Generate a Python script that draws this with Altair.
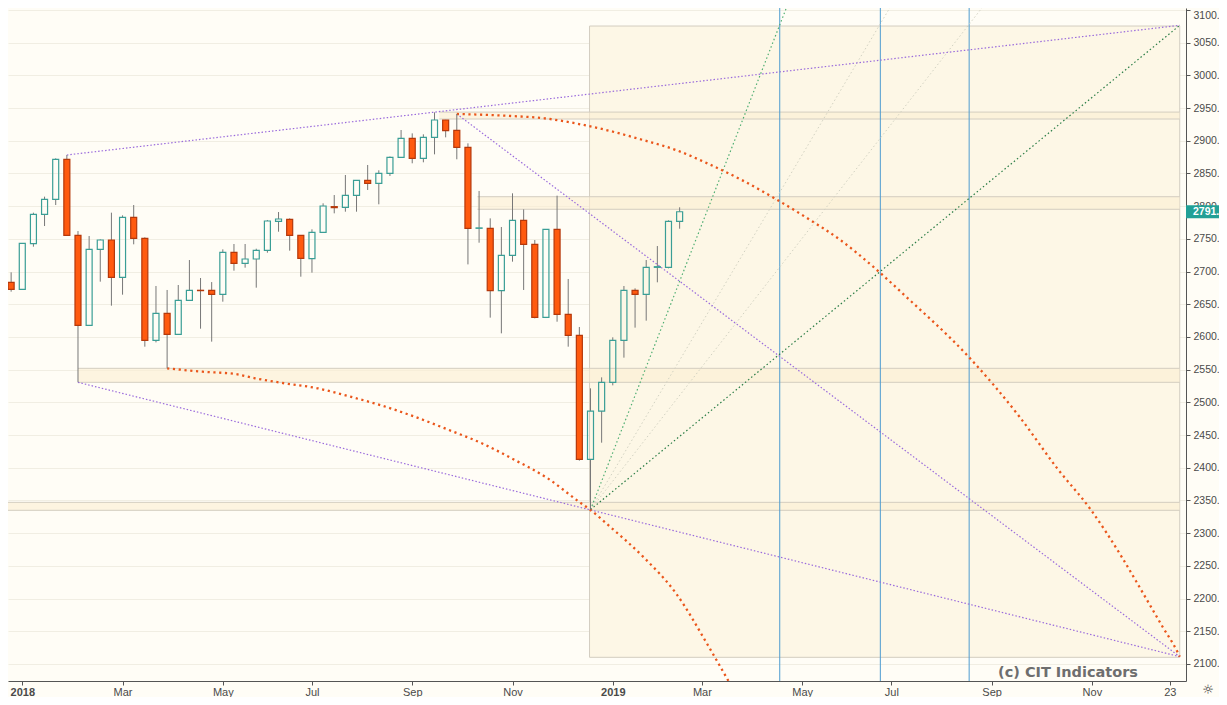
import altair as alt
import pandas as pd

# ---------------- weekly candles ----------------
first_week = "2017-12-25"
opens = [2683.6, 2672.9, 2742.7, 2787.6, 2810.5, 2871.7, 2755.4, 2617.8, 2734.0, 2748.3,
         2691.2, 2783.0, 2750.9, 2594.9, 2636.2, 2604.1, 2656.1, 2671.4, 2671.4, 2665.2,
         2729.5, 2712.6, 2719.3, 2732.5, 2776.9, 2779.9, 2755.4, 2719.8, 2760.1, 2799.3,
         2798.3, 2816.6, 2839.6, 2835.0, 2850.3, 2874.7, 2903.8, 2873.2, 2905.3, 2931.8,
         2916.0, 2890.0, 2766.2, 2766.2, 2670.8, 2724.9, 2778.4, 2741.7, 2630.0, 2764.6,
         2634.7, 2602.5, 2412.9, 2486.8, 2530.7, 2594.9, 2671.3, 2665.2, 2706.5, 2706.5,
         2776.9]
highs = [2698.9, 2743.5, 2790.1, 2814.6, 2873.2, 2878.3, 2762.0, 2754.4, 2749.3, 2790.1,
         2786.0, 2801.8, 2752.4, 2678.0, 2671.9, 2679.5, 2717.7, 2690.2, 2684.0, 2734.0,
         2742.2, 2742.2, 2735.0, 2778.9, 2791.1, 2781.4, 2755.9, 2764.6, 2804.4, 2817.1,
         2847.7, 2839.6, 2863.0, 2854.9, 2876.0, 2916.5, 2911.4, 2909.9, 2943.5, 2932.0,
         2941.0, 2896.1, 2823.3, 2781.4, 2768.2, 2819.7, 2795.2, 2748.3, 2764.6, 2816.1,
         2688.7, 2615.3, 2521.5, 2538.3, 2599.5, 2678.0, 2674.4, 2717.7, 2739.1, 2778.4,
         2798.3]
lows = [2669.3, 2672.0, 2738.1, 2769.7, 2801.8, 2755.4, 2530.7, 2617.8, 2684.6, 2647.9,
        2664.7, 2741.7, 2585.2, 2591.8, 2552.1, 2604.1, 2656.1, 2612.7, 2592.9, 2654.0,
        2701.4, 2706.0, 2675.4, 2728.9, 2761.0, 2732.0, 2692.2, 2698.4, 2760.1, 2789.1,
        2791.6, 2791.6, 2824.8, 2802.9, 2846.2, 2874.7, 2865.6, 2867.1, 2879.3, 2905.3,
        2871.7, 2711.0, 2744.2, 2629.6, 2605.6, 2715.2, 2671.9, 2628.5, 2629.0, 2623.4,
        2585.2, 2410.9, 2336.0, 2438.4, 2526.1, 2568.4, 2614.3, 2625.0, 2683.6, 2705.0,
        2765.6]
closes = [2672.9, 2743.2, 2787.6, 2810.5, 2871.7, 2755.4, 2617.8, 2734.0, 2748.3, 2691.2,
          2783.0, 2750.9, 2594.9, 2636.2, 2604.1, 2656.1, 2671.4, 2670.9, 2665.2, 2729.5,
          2712.6, 2719.3, 2732.5, 2777.4, 2780.4, 2755.4, 2720.3, 2760.1, 2800.3, 2797.8,
          2816.6, 2839.6, 2835.0, 2850.3, 2874.7, 2903.8, 2873.2, 2905.3, 2931.8, 2915.5,
          2890.0, 2766.2, 2766.8, 2670.8, 2724.9, 2778.4, 2741.7, 2630.0, 2764.6, 2634.7,
          2602.5, 2412.9, 2486.8, 2530.7, 2594.9, 2671.3, 2665.2, 2706.5, 2707.5, 2776.9,
          2791.5]

# ---------------- axis ticks ----------------
price_ticks = list(range(2100, 3101, 50))
tick_dates = ["2018-01-01", "2018-03-05", "2018-05-07", "2018-07-02", "2018-09-03", "2018-11-05",
              "2019-01-07", "2019-03-04", "2019-05-06", "2019-07-01", "2019-09-02", "2019-11-04",
              "2019-12-23"]
tick_labels = ["2018", "Mar", "May", "Jul", "Sep", "Nov", "2019", "Mar", "May", "Jul", "Sep",
               "Nov", "23"]

# ---------------- drawings (days counted from 2018-01-01) ----------------
purple_ids = ["p1", "p1", "p2", "p2", "p3", "p3"]
purple_day = [28, 727.2, 35, 727.2, 273, 727.2]
purple_price = [2878.3, 3076.6, 2530.7, 2111.2, 2941.0, 2111.2]

fan_ids = ["g1", "g1", "g2", "g2", "l1", "l1", "l2", "l2"]
fan_day = [357, 482, 357, 727.2, 357, 548, 357, 606.8]
fan_price = [2336.0, 3115.3, 2336.0, 3076.6, 2336.0, 3115.3, 2336.0, 3115.3]
fan_kind = ["steep", "steep", "flat", "flat", "grey", "grey", "grey", "grey"]

arc_low_day = [91, 113.2, 133.8, 146.2, 164.8, 185.5, 206.1, 226.8, 247.5, 268.1, 288.7,
               309.5, 330.1, 349.7, 357, 369.3, 390.0, 410.7, 431.3, 442.7, 449.1]
arc_low_price = [2552.1, 2546.9, 2543.4, 2536.9, 2529.2, 2521.6, 2508.7, 2494.5, 2477.2,
                 2457.8, 2437.5, 2411.9, 2383.9, 2348.2, 2335.5, 2309.9, 2264.1, 2208.1,
                 2126.5, 2078.2, 2051.0]
arc_high_day = [273, 307.3, 328.0, 350.7, 369.3, 390.0, 410.7, 431.3, 452.0, 472.6, 493.3,
                514.0, 534.6, 555.3, 594.5, 626.5, 650.3, 671.0, 691.4, 703.0, 716.4, 725.7, 727.2]
arc_high_price = [2941.0, 2937.9, 2934.4, 2925.2, 2915.0, 2901.2, 2885.9, 2864.5, 2840.1,
                  2812.1, 2781.5, 2748.3, 2707.5, 2661.6, 2569.9, 2478.1, 2398.9, 2337.0,
                  2261.2, 2213.1, 2157.0, 2118.8, 2111.2]

cycle_days = [475.9, 539.1, 594.9]

band_start = [262, 286, 35, -10]
band_end = [727.2, 727.2, 727.2, 727.2]
band_lo = [2933.3, 2795.3, 2530.7, 2335.0]
band_hi = [2943.9, 2814.5, 2552.1, 2347.2]

box_day = [356.4, 727.2]
box_price = [2110.2, 3075.5]

watermark = "(c) CIT Indicators"

# ---------------- helpers ----------------
BASE = pd.Timestamp("2018-01-01", tz="UTC")
DAY_MS = 86400000
BASE_MS = BASE.value // 10**6


def day_ms(d):
    return BASE_MS + d * DAY_MS


def date_ms(s):
    return pd.Timestamp(s, tz="UTC").value // 10**6


W, H = 1178, 673
PAD_R = 33
x_scale = alt.Scale(type="utc", domain=[day_ms(-5.83), day_ms(728.0)])
y_scale = alt.Scale(domain=[2074.0, 3103.06], nice=False, zero=False)

tick_ms = [date_ms(s) for s in tick_dates]
label_expr = "''"
for m, lab in reversed(list(zip(tick_ms, tick_labels))):
    label_expr = f"abs(time(datum.value) - {m}) < 3600000 ? '{lab}' : ({label_expr})"

AXIS_FONT = "Liberation Sans"
x_axis = alt.Axis(values=tick_ms, labelExpr=label_expr, title=None, grid=False,
                  domainColor="#555555", tickColor="#555555", tickSize=4,
                  labelColor="#4a4a4a", labelFont=AXIS_FONT, labelFontSize=11,
                  labelPadding=1, labelOverlap=False, labelFlush=False,
                  labelFontWeight={"condition": {"test": "utcmonth(datum.value) == 0", "value": "bold"},
                                   "value": "normal"})
y_axis = alt.Axis(orient="right", values=price_ticks, labelExpr="format(datum.value, 'd') + '.'",
                  title=None, grid=True,
                  gridColor="#f1eee3", domainColor="#555555", tickColor="#555555", tickSize=4,
                  labelColor="#4a4a4a", labelFont=AXIS_FONT, labelFontSize=10.5, labelPadding=3,
                  labelOverlap=False, labelFlush=5)


def X(f):
    return alt.X(f, type="temporal", scale=x_scale, axis=x_axis, title=None)


def Y(f):
    return alt.Y(f, type="quantitative", scale=y_scale, axis=y_axis, title=None)


# ---------------- data frames ----------------
weeks = pd.date_range(first_week, periods=len(opens), freq="7D", tz="UTC")
cdf = pd.DataFrame({"t": [w.value // 10**6 for w in weeks], "o": opens, "h": highs,
                    "l": lows, "c": closes})
cdf["up"] = cdf["c"] >= cdf["o"]
cdf["top"] = cdf[["o", "c"]].max(axis=1)
cdf["bot"] = cdf[["o", "c"]].min(axis=1)

box_df = pd.DataFrame({"t1": [day_ms(box_day[0])], "t2": [day_ms(box_day[1])],
                       "p1": [box_price[0]], "p2": [box_price[1]]})
band_df = pd.DataFrame({"t1": [day_ms(d) for d in band_start], "t2": [day_ms(d) for d in band_end],
                        "lo": band_lo, "hi": band_hi})
band_lines = pd.DataFrame({"t1": list(band_df.t1) * 2, "t2": list(band_df.t2) * 2,
                           "p": band_lo + band_hi})
cyc_df = pd.DataFrame({"t": [day_ms(d) for d in cycle_days]})
pur_df = pd.DataFrame({"id": purple_ids, "t": [day_ms(d) for d in purple_day], "p": purple_price,
                       "seq": list(range(len(purple_ids)))})
fan_df = pd.DataFrame({"id": fan_ids, "t": [day_ms(d) for d in fan_day], "p": fan_price,
                       "kind": fan_kind, "seq": list(range(len(fan_ids)))})
arc_df = pd.DataFrame({
    "id": ["low"] * len(arc_low_day) + ["high"] * len(arc_high_day),
    "t": [day_ms(d) for d in arc_low_day + arc_high_day],
    "p": arc_low_price + arc_high_price,
    "seq": list(range(len(arc_low_day) + len(arc_high_day))),
})
last = closes[-1]
tag_df = pd.DataFrame({"hi": [last + 10], "lo": [last - 10], "p": [last],
                       "txt": [f"{int(last)}."]})

# ---------------- layers ----------------
box = alt.Chart(box_df).mark_rect(fill="#fdf7e6", stroke="#d3cdc0", strokeWidth=1).encode(
    x=X("t1"), x2="t2", y=Y("p1"), y2="p2")

bands = alt.Chart(band_df).mark_rect(fill="#fcefd2", opacity=0.6, clip=True).encode(
    x=X("t1"), x2="t2", y=Y("lo"), y2="hi")
band_edges = alt.Chart(band_lines).mark_rule(color="#d3cdc0", strokeWidth=1, clip=True).encode(
    x=X("t1"), x2="t2", y=Y("p"))

cycles = alt.Chart(cyc_df).mark_rule(color="#4e9cd0", strokeWidth=1).encode(x=X("t"))

fan_grey = alt.Chart(fan_df[fan_df.kind == "grey"]).mark_line(
    color="#d2d2c2", strokeWidth=1, strokeDash=[1.5, 2.5], clip=True).encode(
    x=X("t"), y=Y("p"), detail="id", order="seq")
fan_steep = alt.Chart(fan_df[fan_df.kind == "steep"]).mark_line(
    color="#4fae72", strokeWidth=1.2, strokeDash=[1.5, 2.5], clip=True).encode(
    x=X("t"), y=Y("p"), detail="id", order="seq")
fan_flat = alt.Chart(fan_df[fan_df.kind == "flat"]).mark_line(
    color="#2a7d46", strokeWidth=1.2, strokeDash=[1.5, 2.5], clip=True).encode(
    x=X("t"), y=Y("p"), detail="id", order="seq")

purple = alt.Chart(pur_df).mark_line(
    color="#9a6bdc", strokeWidth=1.2, strokeDash=[1.5, 2], clip=True).encode(
    x=X("t"), y=Y("p"), detail="id", order="seq")

arcs = alt.Chart(arc_df).mark_line(
    color="#ea561b", strokeWidth=2.3, strokeDash=[2.2, 3.6], interpolate="monotone",
    clip=True).encode(x=X("t"), y=Y("p"), detail="id", order="seq")

wick_hi = alt.Chart(cdf).mark_rule(color="#777777", strokeWidth=1, clip=True).encode(
    x=X("t"), y=Y("h"), y2="top")
wick_lo = alt.Chart(cdf).mark_rule(color="#777777", strokeWidth=1, clip=True).encode(
    x=X("t"), y=Y("bot"), y2="l")
bodies = alt.Chart(cdf).mark_bar(size=6, strokeWidth=1.2, clip=True).encode(
    x=X("t"), y=Y("o"), y2="c",
    fill=alt.condition("datum.up", alt.value("rgba(0,0,0,0)"), alt.value("#ff5a0f")),
    stroke=alt.condition("datum.up", alt.value("#3a9e96"), alt.value("#b5380b")),
)

tag_box = alt.Chart(tag_df).mark_rect(fill="#22a096").encode(
    x=alt.value(W), x2=alt.value(W + PAD_R), y=Y("hi"), y2="lo")
tag_txt = alt.Chart(tag_df).mark_text(
    align="left", baseline="middle", color="white", font=AXIS_FONT, fontSize=10.5,
    fontWeight="bold").encode(x=alt.value(W + 7), y=Y("p"), text="txt")

wm = alt.Chart(pd.DataFrame({"txt": [watermark]})).mark_text(
    align="left", baseline="alphabetic", font="DejaVu Sans", fontSize=14.5, fontWeight="bold",
    color="#6e6e6e").encode(x=alt.value(990), y=alt.value(668.7), text="txt")

gear = alt.Chart(pd.DataFrame({"txt": ["\u263c"]})).mark_text(
    align="center", baseline="middle", font="DejaVu Sans", fontSize=13, color="#333333").encode(
    x=alt.value(W + 22), y=alt.value(682), text="txt")

chart = alt.layer(
    box, bands, band_edges, cycles, fan_grey, fan_steep, fan_flat, purple, arcs,
    wick_hi, wick_lo, bodies, tag_box, tag_txt, wm, gear,
).properties(
    width=W, height=H, background="#fffdf6",
    autosize=alt.AutoSizeParams(type="none"),
    padding={"left": 0, "top": 0, "right": PAD_R, "bottom": 16},
).configure_view(strokeWidth=0)

chart.save("out.html", embed_options={"renderer": "svg", "actions": False})
